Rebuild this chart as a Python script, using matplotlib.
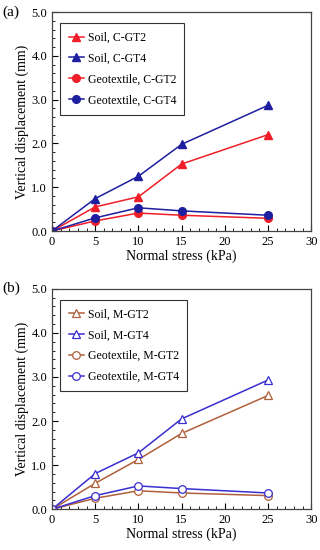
import matplotlib.pyplot as plt
from matplotlib.ticker import MultipleLocator

plt.rcParams['font.family'] = ['Liberation Serif', 'DejaVu Serif']

stress = [0, 5, 10, 15, 25]

# panel (a) C-type
soil_c_gt2 = [0, 0.55, 0.78, 1.53, 2.20]
soil_c_gt4 = [0, 0.74, 1.25, 1.98, 2.87]
geo_c_gt2 = [0, 0.23, 0.41, 0.36, 0.29]
geo_c_gt4 = [0, 0.30, 0.53, 0.46, 0.36]

# panel (b) M-type
soil_m_gt2 = [0, 0.59, 1.13, 1.72, 2.58]
soil_m_gt4 = [0, 0.81, 1.28, 2.05, 2.93]
geo_m_gt2 = [0, 0.25, 0.42, 0.37, 0.31]
geo_m_gt4 = [0, 0.31, 0.53, 0.47, 0.37]

red = '#f01e28'
navy = '#1e1ea0'
brown = '#b0603a'
violet = '#3a2ed0'

fig = plt.figure(figsize=(3.2, 5.5), dpi=100)
ax1 = fig.add_axes([0.1625, 0.58, 0.81, 0.398])
ax2 = fig.add_axes([0.1625, 0.074, 0.81, 0.401])


def style(ax, label):
    ax.set_xlim(0, 30)
    ax.set_ylim(0, 5)
    ax.xaxis.set_major_locator(MultipleLocator(5))
    ax.xaxis.set_minor_locator(MultipleLocator(1))
    ax.yaxis.set_major_locator(MultipleLocator(1))
    ax.yaxis.set_minor_locator(MultipleLocator(0.2))
    ax.set_yticklabels([f'{v:.1f}' for v in ax.get_yticks()])
    ax.tick_params(which='both', direction='in', labelsize=9, top=False, right=False)
    ax.tick_params(which='major', length=4)
    ax.tick_params(which='minor', length=2.5)
    for s in ax.spines.values():
        s.set_color('#444444')
        s.set_linewidth(0.9)
    ax.set_xlabel('Normal stress (kPa)', fontsize=10, labelpad=1)
    ax.set_ylabel('Vertical displacement (mm)', fontsize=10, labelpad=2)
    ax.text(-0.19, 1.0, label, transform=ax.transAxes, fontsize=11, va='center', ha='left')
    leg = ax.legend(loc='upper left', fontsize=8.5, handlelength=1.3, handletextpad=0.3,
                    labelspacing=0.75, borderpad=0.7, fancybox=False, framealpha=1,
                    bbox_to_anchor=(0.01, 0.975))
    leg.get_frame().set_edgecolor('#333333')
    leg.get_frame().set_linewidth(0.8)


kw = dict(lw=1.1, ms=5.5)
ax1.plot(stress, soil_c_gt2, '-^', color=red, label='Soil, C-GT2', **kw)
ax1.plot(stress, soil_c_gt4, '-^', color=navy, label='Soil, C-GT4', **kw)
ax1.plot(stress, geo_c_gt2, '-o', color=red, label='Geotextile, C-GT2', **kw)
ax1.plot(stress, geo_c_gt4, '-o', color=navy, label='Geotextile, C-GT4', **kw)
style(ax1, '(a)')

kw2 = dict(lw=1.1, ms=5.5, mfc='white', mew=0.9)
ax2.plot(stress, soil_m_gt2, '-^', color=brown, label='Soil, M-GT2', **kw2)
ax2.plot(stress, soil_m_gt4, '-^', color=violet, label='Soil, M-GT4', **kw2)
ax2.plot(stress, geo_m_gt2, '-o', color=brown, label='Geotextile, M-GT2', **kw2)
ax2.plot(stress, geo_m_gt4, '-o', color=violet, label='Geotextile, M-GT4', **kw2)
style(ax2, '(b)')

fig.savefig('out.png', dpi=100)
